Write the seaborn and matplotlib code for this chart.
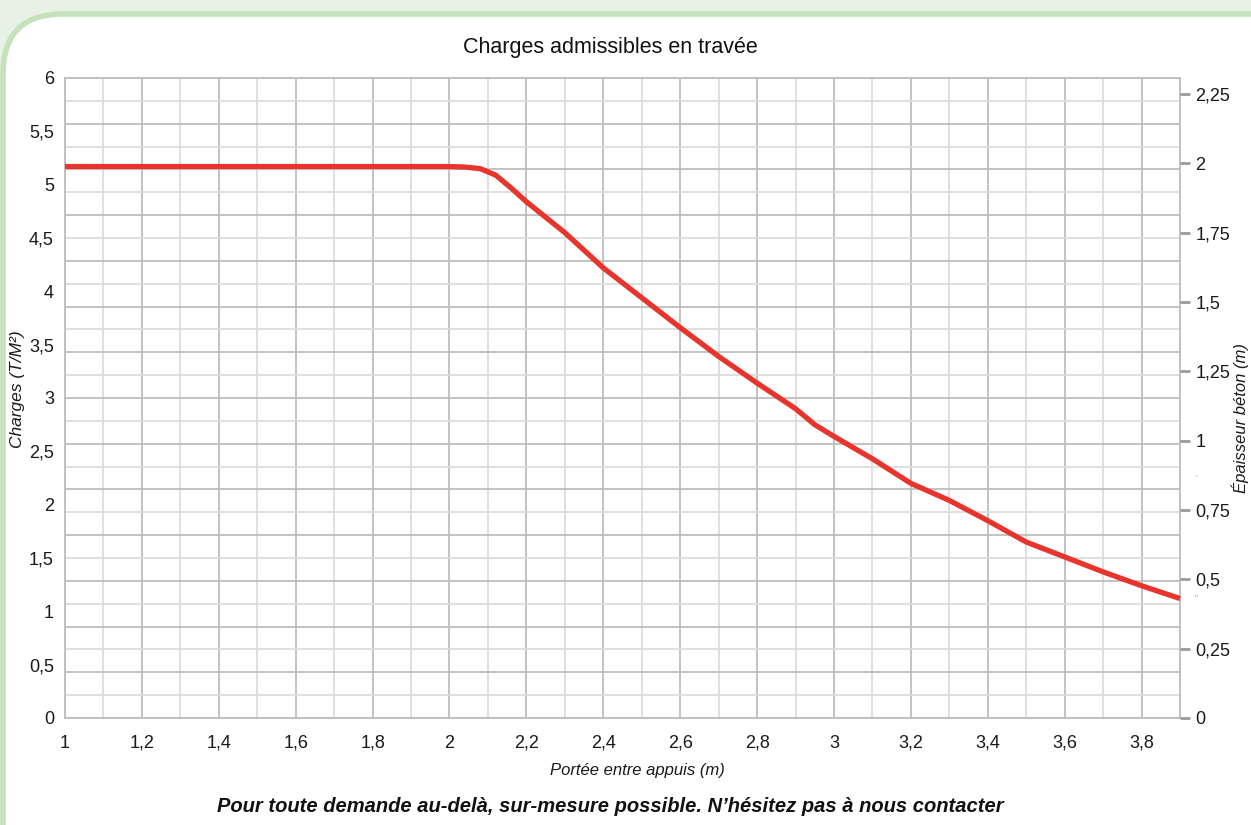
import numpy as np
import pandas as pd
import matplotlib
matplotlib.use("Agg")
import matplotlib.pyplot as plt
from matplotlib.patches import FancyBboxPatch
from matplotlib.ticker import FuncFormatter
import seaborn as sns

# --- data ---
portee = [1.0, 1.5, 2.0, 2.04, 2.08, 2.12, 2.16, 2.2, 2.3, 2.4, 2.5, 2.6, 2.7,
          2.8, 2.9, 2.95, 3.0, 3.1, 3.2, 3.3, 3.4, 3.5, 3.6, 3.7, 3.8, 3.9]
charges = [5.17, 5.17, 5.17, 5.165, 5.15, 5.09, 4.97, 4.84, 4.55, 4.22, 3.94,
           3.66, 3.39, 3.14, 2.90, 2.75, 2.64, 2.43, 2.20, 2.04, 1.85, 1.65,
           1.51, 1.37, 1.24, 1.12]

x_ticks = [1.0, 1.2, 1.4, 1.6, 1.8, 2.0, 2.2, 2.4, 2.6, 2.8, 3.0, 3.2, 3.4, 3.6, 3.8]
y_ticks = [0, 0.5, 1, 1.5, 2, 2.5, 3, 3.5, 4, 4.5, 5, 5.5, 6]
y2_ticks = [0, 0.25, 0.5, 0.75, 1, 1.25, 1.5, 1.75, 2, 2.25]

title = "Charges admissibles en travée"
xlabel = "Portée entre appuis (m)"
ylabel = "Charges (T/M²)"
y2label = "Épaisseur béton (m)"
footer = "Pour toute demande au-delà, sur-mesure possible. N’hésitez pas à nous contacter"

df = pd.DataFrame({"portee": portee, "charges": charges})

sns.set_theme(style="white")
plt.rcParams["font.family"] = ["Liberation Sans", "DejaVu Sans"]

W, H = 1251, 825
fig = plt.figure(figsize=(W / 100, H / 100), dpi=100)
fig.patch.set_facecolor("#e8f2e4")

# background panel in pixel coords
bg = fig.add_axes([0, 0, 1, 1], zorder=-10)
bg.set_xlim(0, W)
bg.set_ylim(H, 0)
bg.axis("off")
bg.add_patch(FancyBboxPatch((3, 14), 1400, 880,
                            boxstyle="round,pad=0,rounding_size=60",
                            facecolor="white", edgecolor="#c6e2bb", linewidth=4))

major_c = "#bdbdbd"
minor_c = "#dcdcdc"

ax = fig.add_axes([65 / W, (H - 718) / H, (1180 - 65) / W, (718 - 78) / H])
ax.set_facecolor("none")
ax.set_xlim(1.0, 3.9)
ax.set_ylim(0, 6)

# grid
for i, gx in enumerate(np.linspace(1.0, 3.9, 30)):
    ax.axvline(gx, color=major_c if i % 2 == 0 else minor_c, lw=1.3, zorder=0)
for i, gy in enumerate(np.linspace(0, 6, 29)):
    ax.axhline(gy, color=major_c if i % 2 == 0 else minor_c, lw=1.3, zorder=0)

sns.lineplot(data=df, x="portee", y="charges", ax=ax, color="#e7342c",
             linewidth=3.8, solid_capstyle="butt", solid_joinstyle="round",
             zorder=5, clip_on=False)

fmt = FuncFormatter(lambda v, p: f"{v:g}".replace(".", ","))
ax.set_xticks(x_ticks)
ax.set_yticks(y_ticks)
ax.xaxis.set_major_formatter(fmt)
ax.yaxis.set_major_formatter(fmt)
ax.tick_params(axis="both", length=0, labelsize=13, colors="#1a1a1a")
ax.tick_params(axis="x", pad=12)
ax.tick_params(axis="y", pad=8)
ax.set_xlabel("")
ax.set_ylabel("")
for s in ax.spines.values():
    s.set_color(major_c)
    s.set_linewidth(1.3)

ax2 = ax.twinx()
ax2.set_ylim(0, 2.307)
ax2.set_yticks(y2_ticks)
ax2.yaxis.set_major_formatter(fmt)
ax2.tick_params(axis="y", length=7, width=2, color="#9a9a9a", pad=4,
                labelsize=13, labelcolor="#1a1a1a")
for s in ax2.spines.values():
    s.set_visible(False)

fig.text(610 / W, 1 - 47 / H, title, ha="center", va="center", fontsize=15.5,
         color="#111111")
fig.text(637 / W, 1 - 770 / H, xlabel, ha="center", va="center", fontsize=12,
         style="italic", color="#1a1a1a")
fig.text(18 / W, 1 - 389 / H, ylabel, ha="center", va="center", fontsize=12.5,
         style="italic", rotation=90, color="#1a1a1a")
fig.text(1240 / W, 1 - 418 / H, y2label, ha="center", va="center", fontsize=12,
         style="italic", rotation=90, color="#1a1a1a")
fig.text(1196 / W, 1 - 478 / H, "'", ha="center", va="center", fontsize=6,
         color="#888888")
fig.text(1196 / W, 1 - 598 / H, '"', ha="center", va="center", fontsize=6,
         color="#888888")
fig.text(610 / W, 1 - 807 / H, footer, ha="center", va="center", fontsize=14.5,
         style="italic", fontweight="bold", color="#111111")

fig.savefig("out.png", dpi=100, facecolor=fig.get_facecolor())
